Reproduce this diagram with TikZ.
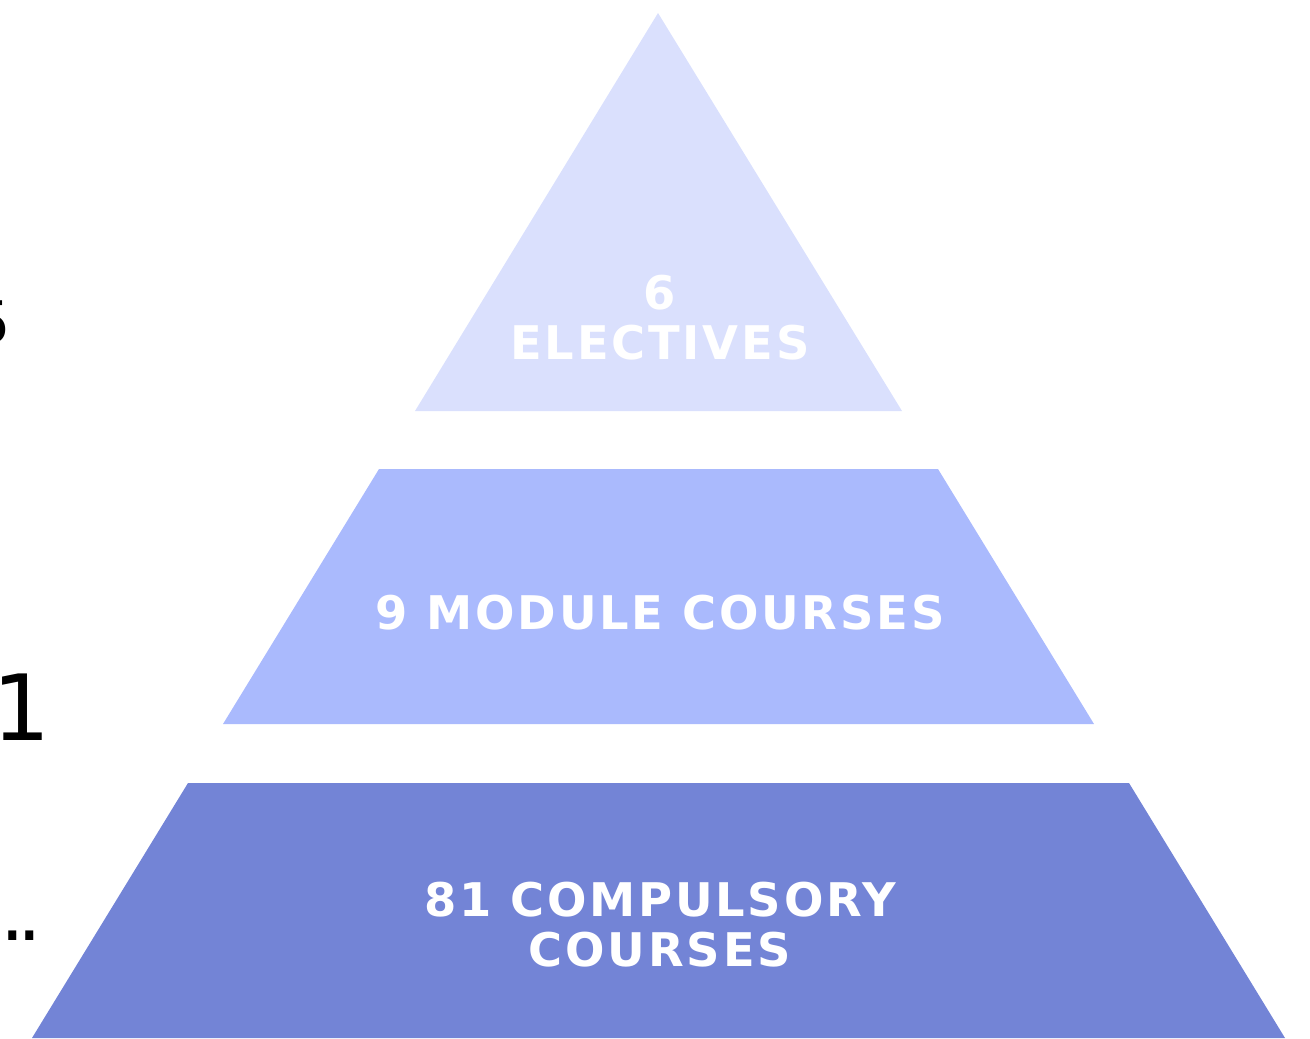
\documentclass[tikz,border=0pt]{standalone}
\usepackage{fontspec}
\usepackage{tikz}
\newfontfamily\tierfont{DejaVu Sans}[LetterSpace=6]
\newfontfamily\sidefont{DejaVu Sans}
\definecolor{topblue}{HTML}{DAE0FD}
\definecolor{midblue}{HTML}{AABAFD}
\definecolor{lowblue}{HTML}{7384D6}
\tikzstyle{pyr}=[x=0.02cm, y=-0.02cm]
\tikzstyle{tier}=[inner sep=0pt, anchor=south, text depth=0pt, align=center, text=white, font=\tierfont\bfseries\fontsize{26.4}{28.3}\selectfont]
\tikzstyle{side}=[inner sep=0pt, anchor=base east, text=black]

\begin{document}
\begin{tikzpicture}[pyr]
	\useasboundingbox (0,0) rectangle (1310,1038);
	\clip (0,0) rectangle (1310,1038);
	\fill[topblue] (658,13) -- (902,411) -- (415,411) -- cycle;
	\fill[midblue] (379,469) -- (938,469) -- (1094,724) -- (223,724) -- cycle;
	\fill[lowblue] (188,783) -- (1129,783) -- (1285,1038) -- (32,1038) -- cycle;
	\draw (660,360) node[tier] (electives) {6\\ELECTIVES};
	\draw (660,630) node[tier] (module) {9 MODULE COURSES};
	\draw (660,967) node[tier] (compulsory) {81 COMPULSORY\\COURSES};
	\draw (11,343) node[side, font=\sidefont\fontsize{33.4}{40}\selectfont] (five) {5};
	\draw (51,740) node[side, font=\sidefont\fontsize{52}{60}\selectfont] (one) {1};
	\draw (42,940) node[side, font=\sidefont\fontsize{44}{50}\selectfont] (dots) {.\kern-4.5pt.};
\end{tikzpicture}
\end{document}
